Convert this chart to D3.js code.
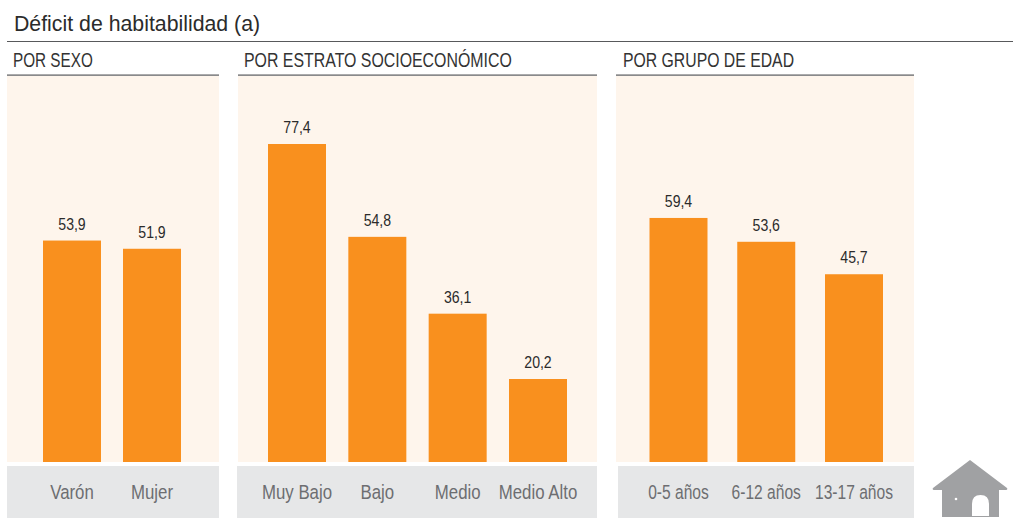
<!DOCTYPE html>
<html><head><meta charset="utf-8">
<script src="https://cdn.jsdelivr.net/npm/d3@7/dist/d3.min.js"></script>
<style>
html,body{margin:0;padding:0;background:#fff}
svg{display:block}
text{font-family:"Liberation Sans",sans-serif}
</style></head><body>
<svg id="c" width="1013" height="520"></svg>
<script>
const title = "Déficit de habitabilidad (a)";
const sexoCategories = ["Varón","Mujer"];
const sexoValues = [53.9,51.9];
const estratoCategories = ["Muy Bajo","Bajo","Medio","Medio Alto"];
const estratoValues = [77.4,54.8,36.1,20.2];
const edadCategories = ["0-5 años","6-12 años","13-17 años"];
const edadValues = [59.4,53.6,45.7];
const panelTitles = ["POR SEXO","POR ESTRATO SOCIOECONÓMICO","POR GRUPO DE EDAD"];

const panels = [
  {name:panelTitles[0],cats:sexoCategories,vals:sexoValues,x0:7,x1:219,bx0:43,bx1:181,grayX:7,tx:13,tr:0.745,lr:0.82},
  {name:panelTitles[1],cats:estratoCategories,vals:estratoValues,x0:238,x1:597,bx0:268,bx1:567,grayX:237,tx:244,tr:0.775,lr:0.82},
  {name:panelTitles[2],cats:edadCategories,vals:edadValues,x0:616,x1:914,bx0:649.5,bx1:883,grayX:618,tx:623,tr:0.77,lr:0.76}
];
const barW = 58;
const svg = d3.select("#c");
const y = d3.scaleLinear().domain([0,77.4]).range([462,144]);
const fmt = v => d3.format(".1f")(v).replace(".",",");
// condense real text horizontally (no narrow face is installed)
const condense = (sel,r) => sel.each(function(){
  this.setAttribute("textLength", this.getComputedTextLength()*r);
  this.setAttribute("lengthAdjust","spacingAndGlyphs");
});

svg.append("text").attr("x",14).attr("y",31).attr("font-size",21.5).attr("fill","#2b2b2b").text(title).call(condense,0.99);
svg.append("rect").attr("x",7).attr("y",41).attr("width",1006).attr("height",1).attr("fill","#58595b");

panels.forEach(p=>{
  const g = svg.append("g");
  g.append("rect").attr("x",p.x0).attr("y",76).attr("width",p.x1-p.x0).attr("height",386).attr("fill","#fef5ec");
  g.append("rect").attr("x",p.grayX).attr("y",466).attr("width",p.x1-p.grayX).attr("height",52).attr("fill","#e6e7e8");
  g.append("rect").attr("x",p.x0).attr("y",74.5).attr("width",p.x1-p.x0).attr("height",1.2).attr("fill","#58595b");
  g.append("text").attr("x",p.tx).attr("y",67).attr("font-size",20.5).attr("fill","#333").text(p.name).call(condense,p.tr);
  const n = p.cats.length;
  const S = (p.bx1-p.bx0-barW)/(n-1);
  const x = d3.scaleBand().domain(p.cats).range([p.bx0,p.bx1]).paddingInner(1-barW/S).paddingOuter(0);
  const data = p.cats.map((c,i)=>({c,v:p.vals[i]}));
  g.selectAll("rect.bar").data(data).join("rect").attr("class","bar")
    .attr("x",d=>x(d.c)).attr("y",d=>y(d.v)).attr("width",x.bandwidth()).attr("height",d=>y(0)-y(d.v)).attr("fill","#f9901e");
  g.selectAll("text.val").data(data).join("text").attr("class","val")
    .attr("x",d=>x(d.c)+x.bandwidth()/2).attr("y",d=>y(d.v)-11).attr("text-anchor","middle")
    .attr("font-size",16).attr("fill","#2b2b2b").text(d=>fmt(d.v)).call(condense,0.88);
  const axis = d3.axisBottom(x).tickSize(0).tickPadding(0);
  const ag = g.append("g").attr("transform","translate(0,484)").call(axis);
  ag.select(".domain").remove();
  ag.selectAll("text").attr("font-size",20.5).attr("fill","#6d6e71").style("font-family",'"Liberation Sans",sans-serif').call(condense,p.lr);
});

// house icon
const house = svg.append("g").attr("fill","#a0a1a3");
house.append("path").attr("d","M970 460 L1007 488 Q1008 490 1006 490 L999 490 L999 517 L942 517 L942 490 L934 490 Q932 490 933 488 Z");
house.append("path").attr("fill","#fff").attr("d","M972 516 L972 504 Q972 495 980.5 495 Q989 495 989 504 L989 516 Z");
house.append("circle").attr("cx",956).attr("cy",499).attr("r",1.3).attr("fill","#fff");
</script>
</body></html>
